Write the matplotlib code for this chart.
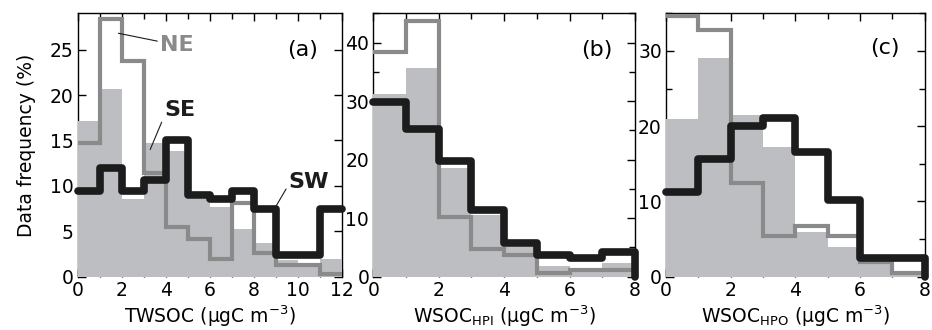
import numpy as np
import matplotlib
matplotlib.use("Agg")
import matplotlib.pyplot as plt
from matplotlib.ticker import MultipleLocator

plt.rcParams['font.family'] = ['DejaVu Sans']

# ---------------- data (percent per 1 ugC m-3 bin) ----------------
edges_a = np.arange(0, 13, 1)
edges_b = np.arange(0, 9, 1)
edges_c = np.arange(0, 9, 1)

se_a = [17.1, 20.7, 8.6, 14.7, 13.8, 8.5, 7.7, 5.2, 3.7, 1.8, 1.5, 1.9]
ne_a = [14.7, 28.4, 23.8, 11.4, 5.5, 4.1, 2.0, 8.1, 2.6, 1.3, 1.3, 0.3]
sw_a = [9.4, 12.0, 9.4, 10.6, 15.0, 9.0, 8.5, 9.4, 7.5, 2.4, 2.4, 7.4]

se_b = [31.2, 35.6, 18.5, 10.5, 5.0, 1.8, 1.2, 2.3]
ne_b = [38.4, 43.6, 10.2, 4.8, 3.7, 0.6, 1.2, 1.2]
sw_b = [29.9, 25.2, 19.7, 11.4, 5.7, 3.7, 3.2, 4.3]

se_c = [21.0, 29.1, 21.5, 17.3, 6.0, 4.0, 2.0, 0.3]
ne_c = [34.6, 32.8, 12.4, 5.4, 6.7, 5.4, 1.9, 0.5]
sw_c = [11.3, 15.6, 20.0, 21.1, 16.6, 10.2, 2.5, 2.5]

xlabels = ['TWSOC (µgC m$^{\\mathregular{-3}}$)',
           'WSOC$_{\\mathregular{HPI}}$ (µgC m$^{\\mathregular{-3}}$)',
           'WSOC$_{\\mathregular{HPO}}$ (µgC m$^{\\mathregular{-3}}$)']
panel_tags = ['(a)', '(b)', '(c)']
ylims = [29, 45, 35]
xlims = [12, 8, 8]
ymajor = [5, 10, 10]
drop_end = [False, True, True]

FILL = '#bdbec2'
GRAY = '#8a8a8a'
BLACK = '#1c1c1c'

fig = plt.figure(figsize=(9.32, 3.30), dpi=100)
W, H = 932.0, 330.0
boxes = [(77.5, 341.7), (373.3, 635.0), (666.0, 924.5)]
top_px, bot_px = 13.3, 276.7
tag_pos = [(0.91, 0.86), (0.915, 0.86), (0.905, 0.87)]

data = [(edges_a, se_a, ne_a, sw_a), (edges_b, se_b, ne_b, sw_b), (edges_c, se_c, ne_c, sw_c)]
axes = []
for i, ((l, r), (edges, se, ne, sw)) in enumerate(zip(boxes, data)):
    ax = fig.add_axes([l / W, (H - bot_px) / H, (r - l) / W, (bot_px - top_px) / H])
    axes.append(ax)
    ax.stairs(se, edges, fill=True, baseline=0, color=FILL, lw=0, zorder=3)
    ax.stairs(ne, edges, baseline=None, color=GRAY, lw=3.0, zorder=4)
    # SW black step line
    xs = np.repeat(edges, 2)[1:-1]
    ys = np.repeat(sw, 2)
    if drop_end[i]:
        xs = np.append(xs, edges[-1])
        ys = np.append(ys, 0)
    ax.plot(xs, ys, color=BLACK, lw=5.5, solid_capstyle='round',
            solid_joinstyle='round', zorder=5, clip_on=False)

    ax.set_xlim(0, xlims[i])
    ax.set_ylim(0, ylims[i])
    ax.xaxis.set_major_locator(MultipleLocator(2))
    ax.xaxis.set_minor_locator(MultipleLocator(1))
    ax.yaxis.set_major_locator(MultipleLocator(ymajor[i]))
    ax.yaxis.set_minor_locator(MultipleLocator(5))
    ax.tick_params(which='both', direction='in', top=True, right=True,
                   labelsize=13.5, pad=3, width=1.0)
    ax.tick_params(which='major', length=6)
    ax.tick_params(which='minor', length=4.5)
    ax.spines['bottom'].set_visible(False)
    for s in ['left', 'right', 'top']:
        ax.spines[s].set_linewidth(1.0)
    ax.set_xlabel(xlabels[i], fontsize=13.5, labelpad=2.5)
    ax.text(tag_pos[i][0], tag_pos[i][1], panel_tags[i], transform=ax.transAxes,
            ha='right', va='center', fontsize=16, zorder=6)

axes[0].set_ylabel('Data frequency (%)', fontsize=13.5, labelpad=10)

ax = axes[0]
ax.annotate('NE', xy=(1.86, 26.8), xytext=(3.75, 25.5), color=GRAY,
            fontsize=16, fontweight='bold', ha='left', va='center', zorder=7,
            arrowprops=dict(arrowstyle='-', color=BLACK, lw=0.8,
                            shrinkA=0, shrinkB=0))
ax.annotate('SE', xy=(3.3, 14.0), xytext=(3.95, 18.4), color=BLACK,
            fontsize=16, fontweight='bold', ha='left', va='center', zorder=7,
            arrowprops=dict(arrowstyle='-', color=BLACK, lw=0.8,
                            shrinkA=0, shrinkB=0, relpos=(0, 0.2)))
ax.annotate('SW', xy=(9.0, 7.7), xytext=(9.6, 10.4), color=BLACK,
            fontsize=16, fontweight='bold', ha='left', va='center', zorder=7,
            arrowprops=dict(arrowstyle='-', color=BLACK, lw=0.8,
                            shrinkA=0, shrinkB=0, relpos=(0, 0.4)))

fig.savefig('out.png', dpi=100)
